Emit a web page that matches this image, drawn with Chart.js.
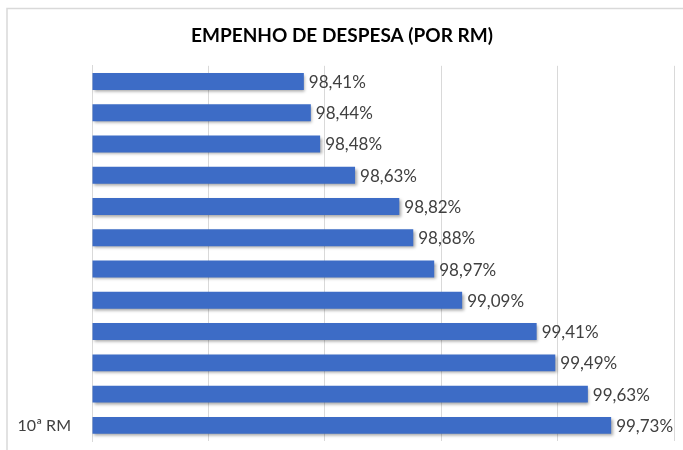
<!DOCTYPE html>
<html>
<head>
<meta charset="utf-8">
<script src="https://cdn.jsdelivr.net/npm/chart.js@4.4.1/dist/chart.umd.min.js"></script>
<style>
html,body{margin:0;padding:0;background:#fff;}
#wrap{width:683px;height:450px;position:relative;}
</style>
</head>
<body>
<div id="wrap"><canvas id="c" width="683" height="450"></canvas></div>
<script>
const categories = ["", "", "", "", "", "", "", "", "", "", "", "10ª RM"];
const values = [98.41, 98.44, 98.48, 98.63, 98.82, 98.88, 98.97, 99.09, 99.41, 99.49, 99.63, 99.73];
const valueLabels = ["98,41%", "98,44%", "98,48%", "98,63%", "98,82%", "98,88%", "98,97%", "99,09%", "99,41%", "99,49%", "99,63%", "99,73%"];
const axisMin = 97.5, axisMax = 100, axisStep = 0.5;
const titleText = "EMPENHO DE DESPESA (POR RM)";

const FONT = "Lato, 'Open Sans', sans-serif";

const frame = {
  id: 'frame',
  beforeDraw(chart) {
    const ctx = chart.ctx;
    ctx.save();
    ctx.strokeStyle = '#d9d9d9';
    ctx.lineWidth = 1.5;
    ctx.beginPath();
    ctx.moveTo(7, 460);
    ctx.lineTo(7, 8.5);
    ctx.lineTo(700, 8.5);
    ctx.stroke();
    ctx.restore();
  }
};

const shadow = {
  id: 'shadow',
  beforeDatasetsDraw(chart) {
    const ctx = chart.ctx;
    ctx.save();
    ctx.shadowColor = 'rgba(0,0,0,0.35)';
    ctx.shadowBlur = 3;
    ctx.shadowOffsetX = 1.5;
    ctx.shadowOffsetY = 2;
  },
  afterDatasetsDraw(chart) {
    chart.ctx.restore();
    const ctx = chart.ctx;
    const meta = chart.getDatasetMeta(0);
    ctx.save();
    ctx.font = "17px " + FONT;
    ctx.fillStyle = '#404040';
    ctx.textAlign = 'left';
    ctx.textBaseline = 'middle';
    meta.data.forEach((bar, i) => {
      ctx.fillText(valueLabels[i], bar.x + 5, bar.y + 1);
    });
    ctx.restore();
  }
};

const ctx = document.getElementById('c').getContext('2d');

new Chart(ctx, {
  type: 'bar',
  data: {
    labels: categories,
    datasets: [{
      data: values,
      backgroundColor: (c) => {
        const el = c.element;
        const ch = c.chart;
        if (!el || el.y === undefined) return '#3d6cc6';
        const h = el.height || 17;
        const g = ch.ctx.createLinearGradient(0, el.y - h / 2, 0, el.y + h / 2);
        g.addColorStop(0, '#5f8ad8');
        g.addColorStop(0.5, '#3f6ecb');
        g.addColorStop(1, '#2c5bb5');
        return g;
      },
      borderWidth: 0,
      barPercentage: 0.54,
      categoryPercentage: 1.0,
      base: axisMin
    }]
  },
  options: {
    indexAxis: 'y',
    responsive: false,
    animation: false,
    devicePixelRatio: 1,
    layout: { padding: { top: 24, left: 10, right: 9, bottom: 9 } },
    plugins: {
      legend: { display: false },
      tooltip: { enabled: false },
      title: {
        display: true,
        text: titleText,
        color: '#000000',
        font: { family: FONT, size: 19, weight: 'bold' },
        padding: { top: 0, bottom: 19 }
      }
    },
    scales: {
      x: {
        min: axisMin,
        max: axisMax,
        ticks: { display: false, stepSize: axisStep },
        grid: { color: '#d9d9d9', lineWidth: 1, drawTicks: false },
        border: { display: false },
        afterFit(s) { s.height = 0; s.paddingLeft = 0; s.paddingRight = 0; }
      },
      y: {
        ticks: {
          color: '#404040',
          font: { family: FONT, size: 16 },
          padding: 21,
          autoSkip: false
        },
        grid: { display: false, drawTicks: false },
        border: { display: true, color: '#d9d9d9' },
        afterFit(s) { s.width = 82; s.paddingTop = 0; s.paddingBottom = 0; }
      }
    }
  },
  plugins: [frame, shadow]
});
</script>
</body>
</html>
